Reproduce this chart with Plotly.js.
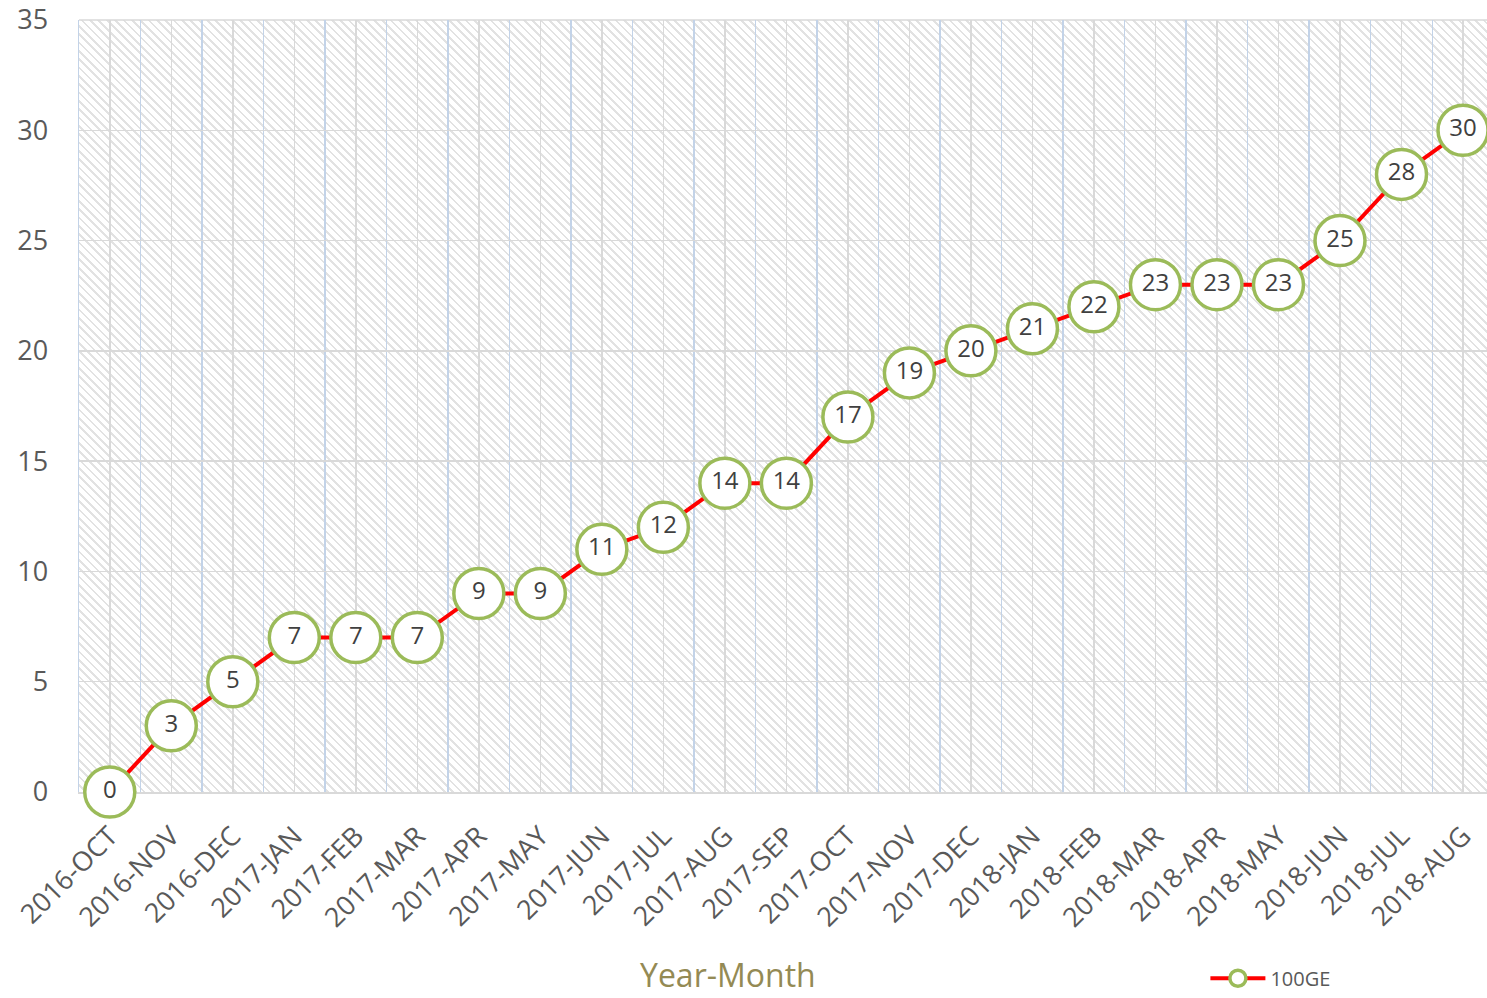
<!DOCTYPE html>
<html>
<head>
<meta charset="utf-8">
<script src="https://cdn.plot.ly/plotly-3.0.1.min.js"></script>
<style>
  html, body { margin: 0; padding: 0; background: #ffffff; }
  #wrap { position: relative; width: 1487px; height: 998px; overflow: hidden; }
  #hatch {
    position: absolute; left: 79px; top: 20px; width: 1408px; height: 772px;
    background: repeating-linear-gradient(45deg, #ffffff 0px, #ffffff 4.0px, #e2e2e2 4.0px, #e2e2e2 5.9px);
  }
  #chart { position: absolute; left: 0; top: 0; width: 1487px; height: 998px; }
</style>
</head>
<body>
<div id="wrap">
  <div id="hatch"></div>
  <div id="chart"></div>
</div>
<script>
const categories = ["2016-OCT","2016-NOV","2016-DEC","2017-JAN","2017-FEB","2017-MAR","2017-APR","2017-MAY","2017-JUN","2017-JUL","2017-AUG","2017-SEP","2017-OCT","2017-NOV","2017-DEC","2018-JAN","2018-FEB","2018-MAR","2018-APR","2018-MAY","2018-JUN","2018-JUL","2018-AUG"];
const values100GE = [0,3,5,7,7,7,9,9,11,12,14,14,17,19,20,21,22,23,23,23,25,28,30];
const seriesName = "100GE";
const xAxisTitle = "Year-Month";
const yTickValues = [0,5,10,15,20,25,30,35];

const xIndex = categories.map((c, i) => i);

const trace = {
  type: 'scatter',
  mode: 'lines+markers+text',
  name: seriesName,
  x: xIndex,
  y: values100GE,
  text: values100GE.map(String),
  textposition: 'middle center',
  textfont: { family: 'Open Sans, sans-serif', size: 24, color: '#404040' },
  line: { color: '#FF0000', width: 4 },
  marker: { symbol: 'circle', size: 50, color: '#FFFFFF', line: { color: '#9BBB59', width: 3.5 } },
  cliponaxis: false,
  hoverinfo: 'x+y'
};

const layout = {
  width: 1487,
  height: 998,
  margin: { l: 79, r: 0, t: 20, b: 206 },
  paper_bgcolor: 'rgba(0,0,0,0)',
  plot_bgcolor: 'rgba(0,0,0,0)',
  font: { family: 'Open Sans, sans-serif', color: '#595959' },
  showlegend: true,
  legend: {
    orientation: 'h',
    x: 0.800, xanchor: 'left',
    y: -0.2665, yanchor: 'bottom',
    font: { size: 20, color: '#595959' },
    itemwidth: 55,
    borderwidth: 0,
    bgcolor: 'rgba(0,0,0,0)'
  },
  xaxis: {
    type: 'linear',
    range: [-0.5, 22.39],
    tickmode: 'array',
    tickvals: xIndex,
    ticktext: categories,
    tickangle: -45,
    tickfont: { size: 27, color: '#595959' },
    ticks: '',
    ticklabelstandoff: 16,
    automargin: false,
    layer: 'below traces',
    showgrid: true,
    gridcolor: '#d9d9d9',
    gridwidth: 1.5,
    minor: { tick0: 0.5, dtick: 1, showgrid: true, gridcolor: '#c3d3e8', gridwidth: 1.5, ticks: '' },
    showline: true,
    linecolor: '#d9d9d9',
    linewidth: 1.5,
    zeroline: false,
    fixedrange: true
  },
  yaxis: {
    range: [0, 35],
    tickmode: 'array',
    tickvals: yTickValues,
    tickfont: { size: 27, color: '#595959' },
    ticks: '',
    ticklabelstandoff: 24,
    automargin: false,
    layer: 'below traces',
    showgrid: true,
    gridcolor: '#d9d9d9',
    gridwidth: 1.5,
    showline: true,
    linecolor: '#c3d3e8',
    linewidth: 1.5,
    zeroline: false,
    fixedrange: true
  },
  annotations: [{
    text: xAxisTitle,
    xref: 'paper', yref: 'paper',
    x: 0.461, y: -0.2365,
    xanchor: 'center', yanchor: 'middle',
    showarrow: false,
    font: { size: 32, color: '#948A54' }
  }],
  shapes: [{
    type: 'line', xref: 'paper', yref: 'paper', layer: 'below',
    x0: 0, x1: 1, y0: 1, y1: 1,
    line: { color: '#d9d9d9', width: 1.5 }
  }]
};

Plotly.newPlot('chart', [trace], layout, { displayModeBar: false, staticPlot: true });
</script>
</body>
</html>
